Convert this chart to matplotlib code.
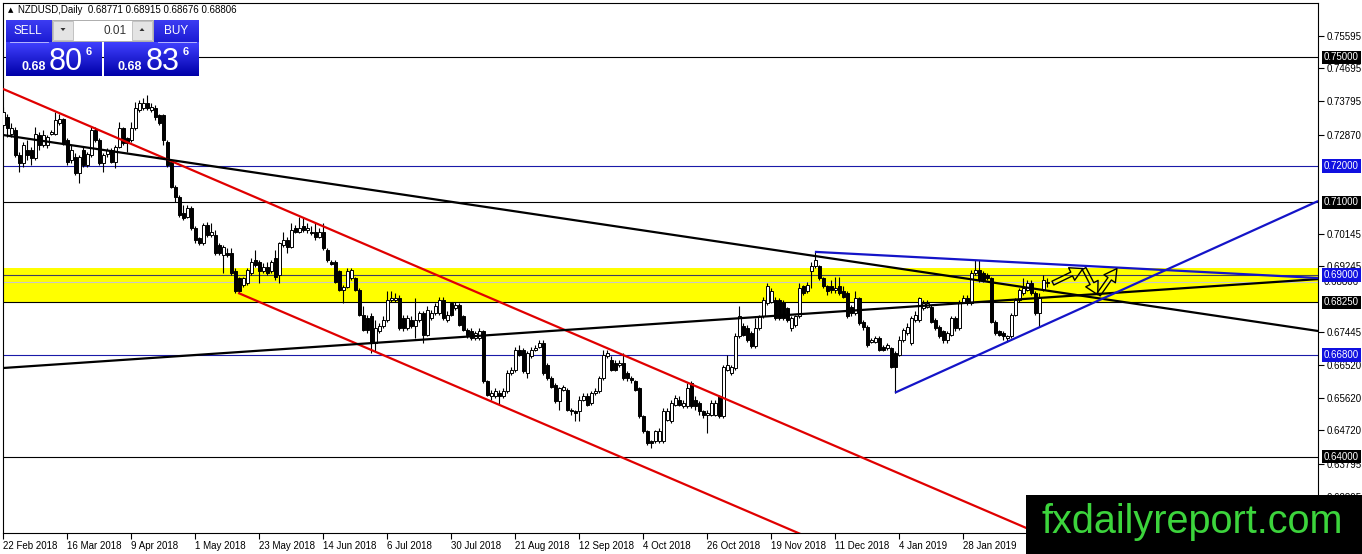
import matplotlib
matplotlib.use("Agg")
import matplotlib.pyplot as plt
import matplotlib.transforms as mtransforms
from matplotlib.patches import Rectangle, FancyArrowPatch, Polygon
from matplotlib.colors import LinearSegmentedColormap
import numpy as np

plt.rcParams['font.family'] = ['Liberation Sans', 'DejaVu Sans']

##### NZDUSD daily candles, prices in 1e-4 units
bar_open = [7313, 7336, 7290, 7299, 7231, 7208, 7244, 7244, 7222, 7286, 7258, 7258, 7288, 7290, 7320, 7329,
            7272, 7217, 7226, 7180, 7244, 7203, 7231, 7299, 7272, 7208, 7233, 7244, 7212, 7254, 7304, 7277,
            7272, 7304, 7354, 7359, 7373, 7354, 7359, 7341, 7341, 7267, 7212, 7144, 7116, 7070, 7061, 7084,
            7029, 7001, 6988, 7038, 7011, 7011, 6983, 6956, 6962, 6960, 6910, 6891, 6873, 6878, 6905, 6942,
            6937, 6910, 6923, 6910, 6946, 6901, 6983, 6997, 6978, 7029, 7020, 7034, 7024, 7020, 7020, 7006,
            7020, 6969, 6937, 6937, 6910, 6859, 6868, 6891, 6891, 6859, 6791, 6782, 6786, 6713, 6745, 6759,
            6777, 6832, 6832, 6837, 6782, 6754, 6777, 6759, 6777, 6795, 6736, 6782, 6795, 6795, 6832, 6777,
            6823, 6809, 6818, 6786, 6749, 6745, 6727, 6727, 6745, 6607, 6566, 6566, 6575, 6566, 6580, 6630,
            6639, 6694, 6694, 6630, 6676, 6694, 6703, 6713, 6653, 6616, 6598, 6552, 6584, 6584, 6529, 6525,
            6525, 6557, 6566, 6548, 6575, 6580, 6616, 6676, 6667, 6658, 6653, 6658, 6630, 6616, 6607, 6589,
            6511, 6470, 6443, 6443, 6443, 6443, 6502, 6497, 6543, 6557, 6538, 6538, 6603, 6557, 6548, 6525,
            6515, 6515, 6515, 6566, 6511, 6639, 6630, 6644, 6731, 6759, 6754, 6740, 6704, 6754, 6786, 6823,
            6827, 6832, 6832, 6827, 6809, 6754, 6763, 6786, 6869, 6855, 6910, 6924, 6924, 6892, 6869, 6869,
            6859, 6869, 6855, 6850, 6813, 6795, 6837, 6772, 6758, 6717, 6717, 6726, 6703, 6699, 6699, 6685,
            6681, 6722, 6740, 6713, 6777, 6777, 6809, 6813, 6813, 6777, 6758, 6745, 6722, 6736, 6781, 6754,
            6827, 6837, 6823, 6905, 6914, 6905, 6901, 6892, 6772, 6745, 6740, 6726, 6731, 6791, 6832, 6850,
            6859, 6878, 6850, 6795, 6859, 6877.1]
bar_high = [7364, 7345, 7318, 7309, 7240, 7267, 7272, 7254, 7309, 7295, 7299, 7286, 7299, 7350, 7345, 7332,
            7277, 7258, 7235, 7231, 7254, 7240, 7309, 7309, 7277, 7235, 7249, 7249, 7258, 7322, 7309, 7281,
            7322, 7377, 7382, 7387, 7396, 7373, 7368, 7345, 7345, 7272, 7217, 7148, 7121, 7093, 7093, 7089,
            7034, 7006, 7043, 7047, 7043, 7024, 6988, 6983, 6974, 6974, 6919, 6896, 6896, 6919, 6946, 6969,
            6942, 6933, 6937, 6942, 6969, 6992, 7020, 7006, 7043, 7038, 7061, 7056, 7043, 7034, 7043, 7029,
            7043, 6974, 6942, 6942, 6914, 6873, 6919, 6919, 6896, 6864, 6814, 6790, 6795, 6777, 6768, 6786,
            6855, 6855, 6850, 6845, 6790, 6790, 6786, 6837, 6800, 6800, 6814, 6804, 6823, 6841, 6841, 6800,
            6827, 6827, 6823, 6790, 6754, 6754, 6745, 6754, 6749, 6612, 6584, 6589, 6584, 6589, 6639, 6648,
            6703, 6708, 6699, 6690, 6703, 6708, 6722, 6722, 6658, 6621, 6603, 6593, 6598, 6589, 6534, 6529,
            6566, 6575, 6575, 6580, 6589, 6621, 6694, 6694, 6676, 6667, 6667, 6685, 6635, 6621, 6612, 6593,
            6515, 6474, 6447, 6474, 6479, 6534, 6534, 6557, 6571, 6566, 6557, 6603, 6607, 6566, 6552, 6529,
            6529, 6557, 6557, 6571, 6653, 6681, 6653, 6740, 6814, 6767, 6763, 6745, 6782, 6791, 6841, 6878,
            6864, 6841, 6837, 6832, 6813, 6786, 6791, 6878, 6873, 6882, 6937, 6965, 6928, 6896, 6873, 6887,
            6896, 6896, 6869, 6855, 6818, 6855, 6841, 6777, 6763, 6727, 6731, 6731, 6708, 6712, 6703, 6690,
            6731, 6754, 6767, 6786, 6800, 6841, 6832, 6832, 6818, 6781, 6763, 6749, 6745, 6786, 6786, 6832,
            6846, 6846, 6914, 6942, 6942, 6910, 6905, 6896, 6777, 6749, 6745, 6736, 6795, 6837, 6864, 6892,
            6887, 6887, 6855, 6850, 6901, 6891.5]
bar_low = [7309, 7281, 7281, 7226, 7185, 7199, 7217, 7203, 7217, 7244, 7254, 7249, 7286, 7286, 7313, 7258,
           7203, 7208, 7176, 7153, 7199, 7199, 7226, 7267, 7203, 7185, 7226, 7208, 7194, 7249, 7258, 7240,
           7267, 7299, 7350, 7354, 7354, 7350, 7327, 7313, 7258, 7199, 7140, 7102, 7061, 7052, 7056, 7025,
           6988, 6983, 6983, 7006, 7006, 6956, 6956, 6905, 6951, 6901, 6850, 6850, 6868, 6873, 6901, 6923,
           6878, 6905, 6901, 6905, 6887, 6878, 6978, 6960, 6974, 7015, 7015, 7020, 7015, 7011, 6997, 7001,
           6969, 6937, 6928, 6878, 6855, 6823, 6864, 6887, 6855, 6786, 6745, 6740, 6685, 6690, 6740, 6754,
           6772, 6827, 6827, 6749, 6745, 6749, 6754, 6727, 6772, 6713, 6731, 6777, 6790, 6790, 6777, 6772,
           6786, 6804, 6759, 6745, 6727, 6722, 6722, 6722, 6603, 6566, 6557, 6561, 6543, 6561, 6575, 6625,
           6634, 6676, 6630, 6616, 6671, 6690, 6699, 6625, 6612, 6589, 6548, 6529, 6580, 6525, 6515, 6497,
           6497, 6552, 6538, 6543, 6571, 6575, 6612, 6671, 6635, 6635, 6648, 6612, 6607, 6603, 6580, 6506,
           6465, 6433, 6424, 6438, 6438, 6438, 6497, 6493, 6538, 6538, 6534, 6534, 6534, 6529, 6515, 6506,
           6465, 6511, 6511, 6506, 6506, 6635, 6625, 6639, 6727, 6731, 6717, 6699, 6699, 6749, 6782, 6818,
           6822, 6777, 6777, 6777, 6772, 6745, 6758, 6782, 6845, 6850, 6864, 6919, 6887, 6864, 6845, 6850,
           6850, 6845, 6836, 6781, 6786, 6790, 6763, 6749, 6703, 6712, 6712, 6690, 6690, 6694, 6644, 6575,
           6676, 6717, 6735, 6708, 6772, 6772, 6804, 6809, 6767, 6749, 6726, 6712, 6712, 6731, 6745, 6749,
           6822, 6818, 6818, 6900, 6882, 6882, 6887, 6767, 6735, 6731, 6722, 6717, 6726, 6786, 6827, 6845,
           6855, 6845, 6790, 6758, 6855, 6867.6]
bar_close = [7350, 7304, 7304, 7231, 7208, 7258, 7231, 7222, 7290, 7258, 7286, 7281, 7295, 7327, 7329, 7263,
             7212, 7244, 7180, 7226, 7203, 7233, 7299, 7272, 7208, 7231, 7244, 7212, 7254, 7304, 7263, 7263,
             7304, 7359, 7373, 7373, 7359, 7362, 7336, 7318, 7272, 7203, 7144, 7116, 7066, 7056, 7084, 7029,
             6997, 6988, 7038, 7011, 7020, 6960, 6960, 6978, 6956, 6905, 6855, 6855, 6891, 6914, 6937, 6928,
             6910, 6923, 6905, 6937, 6896, 6988, 6997, 6978, 7024, 7020, 7029, 7024, 7029, 7015, 7006, 7020,
             6974, 6942, 6931, 6882, 6859, 6868, 6910, 6914, 6859, 6790, 6749, 6749, 6713, 6754, 6759, 6777,
             6832, 6837, 6837, 6754, 6754, 6782, 6759, 6777, 6795, 6736, 6804, 6795, 6814, 6832, 6782, 6791,
             6791, 6818, 6763, 6749, 6736, 6727, 6740, 6745, 6607, 6571, 6575, 6580, 6566, 6580, 6630, 6639,
             6694, 6681, 6635, 6685, 6694, 6699, 6713, 6630, 6616, 6593, 6552, 6589, 6593, 6529, 6525, 6520,
             6557, 6566, 6543, 6575, 6580, 6616, 6681, 6685, 6639, 6639, 6658, 6616, 6616, 6612, 6584, 6511,
             6470, 6438, 6438, 6470, 6470, 6525, 6525, 6548, 6561, 6543, 6548, 6589, 6538, 6538, 6525, 6515,
             6520, 6548, 6548, 6511, 6648, 6653, 6648, 6731, 6786, 6736, 6722, 6704, 6754, 6786, 6832, 6869,
             6855, 6782, 6782, 6782, 6777, 6782, 6786, 6864, 6850, 6873, 6924, 6942, 6892, 6869, 6855, 6860,
             6864, 6850, 6841, 6786, 6795, 6837, 6767, 6758, 6708, 6722, 6726, 6694, 6694, 6708, 6648, 6648,
             6722, 6749, 6758, 6781, 6791, 6837, 6822, 6822, 6772, 6754, 6731, 6722, 6740, 6781, 6754, 6827,
             6837, 6823, 6905, 6914, 6887, 6887, 6892, 6772, 6740, 6736, 6731, 6731, 6791, 6832, 6859, 6864,
             6878, 6850, 6795, 6841, 6887, 6880.6]

date_bars = [0, 16, 32, 48, 64, 80, 96, 112, 128, 144, 160, 176, 192, 208, 224, 240]
date_labels = ['22 Feb 2018', '16 Mar 2018', '9 Apr 2018', '1 May 2018', '23 May 2018', '14 Jun 2018',
               '6 Jul 2018', '30 Jul 2018', '21 Aug 2018', '12 Sep 2018', '4 Oct 2018', '26 Oct 2018',
               '19 Nov 2018', '11 Dec 2018', '4 Jan 2019', '28 Jan 2019']

price_ticks = [0.75595, 0.74695, 0.73795, 0.72870, 0.70145, 0.69245, 0.67445,
               0.66520, 0.65620, 0.64720, 0.63795, 0.62895]

# horizontal levels: price, line colour, label box colour
level_prices = [0.75000, 0.72000, 0.71000, 0.68806, 0.69000, 0.68250, 0.66800, 0.64000]
level_colors = ['black', '#1a1aa8', 'black', '#c8c8c8', '#404060', 'black', '#1a1aa8', 'black']
level_boxes = ['black', '#1010e0', 'black', 'white', '#1010e0', 'black', '#1010e0', 'black']

zone_low, zone_high = 0.68250, 0.69200

# drawn trend lines: (bar, price) -> (bar, price)
red_upper = [(-0.1, 0.7413), (274.0, 0.6117)]
red_lower = [(58.7, 0.6851), (220.0, 0.6089)]
black_down = [(-0.1, 0.7286), (328.7, 0.6746)]
black_up = [(-0.1, 0.6644), (328.7, 0.6889)]
blue_top = [(202.9, 0.6964), (328.7, 0.6892)]
blue_bottom = [(222.9, 0.6576), (328.7, 0.7104)]
arrows = [[(262.4, 0.6878), (269.9, 0.6918)],
          [(270.2, 0.6918), (273.6, 0.6846)],
          [(273.8, 0.6846), (278.4, 0.6918)]]

o = np.array(bar_open) / 10000
h = np.array(bar_high) / 10000
l = np.array(bar_low) / 10000
c = np.array(bar_close) / 10000
idx = np.arange(len(c))

W, H = 1362, 554
fig = plt.figure(figsize=(W / 100, H / 100), dpi=100)
fig.patch.set_facecolor('white')
ax = fig.add_axes([3 / W, 21 / H, 1315 / W, 530 / H])
ax.set_xlim(-0.075, 328.675)
ax.set_ylim(0.61895, 0.76496)

ax.axhspan(zone_low, zone_high, color='#ffff00', zorder=0, lw=0)
for p, col in zip(level_prices, level_colors):
    ax.axhline(p, color=col, lw=0.8, zorder=1)

# candles
ax.vlines(idx, l, h, color='black', lw=0.8, zorder=2)
up = c >= o
body_lo = np.minimum(o, c)
body_h = np.maximum(np.abs(c - o), 0.00003)
ax.bar(idx[up], body_h[up], bottom=body_lo[up], width=0.7, facecolor='white',
       edgecolor='black', linewidth=0.7, zorder=3)
ax.bar(idx[~up], body_h[~up], bottom=body_lo[~up], width=0.7, facecolor='black',
       edgecolor='black', linewidth=0.7, zorder=3)

# trend lines
for seg, col in [(red_upper, '#e00000'), (red_lower, '#e00000'), (black_down, 'black'),
                 (black_up, 'black'), (blue_top, '#1414c8'), (blue_bottom, '#1414c8')]:
    ax.plot([seg[0][0], seg[1][0]], [seg[0][1], seg[1][1]], color=col, lw=1.6, zorder=4,
            solid_capstyle='butt')

for a, b in arrows:
    ax.add_patch(FancyArrowPatch(a, b, arrowstyle='simple,head_length=9,head_width=10,tail_width=3',
                                 fc='none', ec='black', lw=1.0, zorder=5, mutation_scale=1.0,
                                 shrinkA=0, shrinkB=0))

# axes styling
for s in ax.spines.values():
    s.set_color('black')
    s.set_linewidth(0.8)
ax.set_xticks(date_bars, date_labels)
ax.tick_params(axis='x', direction='out', length=4, width=0.8, pad=2, labelsize=7)
for t in ax.get_xticklabels():
    t.set_ha('left')
ax.yaxis.tick_right()
ax.set_yticks(price_ticks, [f'{p:.5f}' for p in price_ticks])
ax.tick_params(axis='y', direction='out', length=4, width=0.8, pad=2, labelsize=7)

trans = mtransforms.blended_transform_factory(ax.transAxes, ax.transData)
for p, bc in zip(level_prices, level_boxes):
    tc = 'black' if bc == 'white' else 'white'
    ax.text(1.0045, p, f'{p:.5f}', transform=trans, ha='left', va='center', fontsize=7,
            color=tc, clip_on=False, zorder=10,
            bbox=dict(boxstyle='square,pad=0.18', fc=bc, ec='none'))

# overlay in pixel coordinates for the terminal widgets and watermark
ui = fig.add_axes([0, 0, 1, 1], zorder=20)
ui.patch.set_alpha(0)
ui.axis('off')

top_cmap = LinearSegmentedColormap.from_list('top', ['#3c3cf2', '#1c1cd4'])
low_cmap = LinearSegmentedColormap.from_list('low', ['#4040ff', '#0000a8'])
grad = np.linspace(0, 1, 60).reshape(-1, 1)
for x0, x1, y0, y1, cm in [(6, 52, 20, 42, top_cmap), (154, 199, 20, 42, top_cmap),
                           (6, 102, 42, 76, low_cmap), (104, 199, 42, 76, low_cmap)]:
    ui.imshow(grad, cmap=cm, extent=(x0, x1, y1, y0), origin='upper', aspect='auto', zorder=1)
ui.add_patch(Rectangle((52, 20), 101, 21, fc='white', ec='#a0a0a0', lw=0.6, zorder=2))
ui.add_patch(Rectangle((53, 21), 20, 19, fc='#e4e4e4', ec='#b0b0b0', lw=0.5, zorder=3))
ui.add_patch(Rectangle((132, 21), 20, 19, fc='#e4e4e4', ec='#b0b0b0', lw=0.5, zorder=3))
ui.add_patch(Polygon([(60.5, 28), (65.5, 28), (63, 31)], fc='#333333', zorder=4))
ui.add_patch(Polygon([(139.5, 31), (144.5, 31), (142, 28)], fc='#333333', zorder=4))
ui.plot([10, 48], [42, 42], color='#c8c8ff', lw=0.6, zorder=4)
ui.plot([158, 196], [42, 42], color='#c8c8ff', lw=0.6, zorder=4)

ui.text(28, 31, 'SELL', color='white', fontsize=8.5, ha='center', va='center', zorder=5)
ui.text(176, 31, 'BUY', color='white', fontsize=8.5, ha='center', va='center', zorder=5)
ui.text(127, 30.5, '0.01', color='#333333', fontsize=8.5, ha='right', va='center', zorder=5)
for x_small, x_big, x_sup, big in [(21, 49, 86, '80'), (118, 146, 183, '83')]:
    ui.text(x_small, 70, '0.68', color='white', fontsize=9, fontweight='bold', va='baseline', zorder=5)
    ui.text(x_big, 70, big, color='white', fontsize=22, va='baseline', zorder=5)
    ui.text(x_sup, 55, '6', color='white', fontsize=8, fontweight='bold', va='baseline', zorder=5)

ui.text(8, 10, '\u25b2', fontsize=5, va='center', family=['DejaVu Sans'], zorder=5)
ui.text(18, 10, 'NZDUSD,Daily  0.68771 0.68915 0.68676 0.68806', fontsize=7, va='center', zorder=5)

ui.add_patch(Rectangle((1026, 495), 340, 62, fc='black', ec='none', zorder=6))
ui.text(1041, 533, 'fxdailyreport.com', color='#3cd43c', fontsize=28.5, va='baseline', zorder=7)

ui.set_xlim(0, W)
ui.set_ylim(H, 0)

fig.savefig('out.png', dpi=100, facecolor='white')
